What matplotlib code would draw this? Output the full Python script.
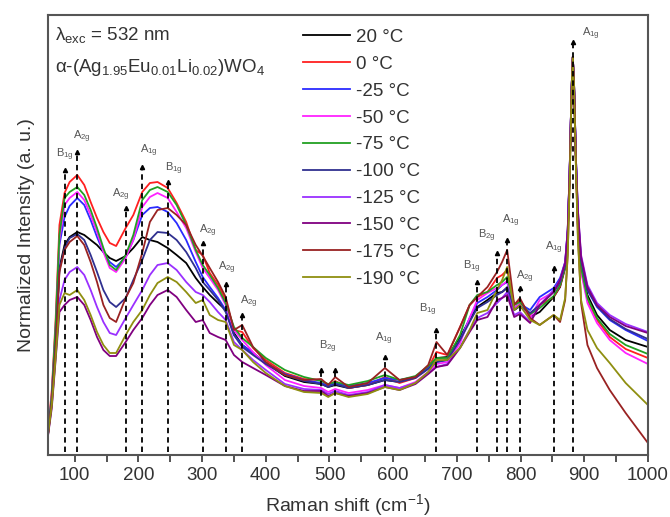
import numpy as np
import matplotlib.pyplot as plt
from matplotlib.ticker import MultipleLocator

plt.rcParams['font.family'] = ['Liberation Sans', 'DejaVu Sans']
plt.rcParams['mathtext.default'] = 'regular'

# Raman shift grid (cm-1)
shift = [58, 64, 70, 76, 84, 92, 104, 115, 125, 135,
         145, 155, 165, 180, 192, 206, 218, 230, 246, 260,
         275, 290, 301, 312, 325, 337, 350, 363, 380, 400,
         430, 460, 487, 498, 509, 530, 560, 587, 610, 635,
         655, 668, 685, 705, 720, 732, 748, 763, 771, 779,
         790, 799, 815, 830, 852, 862, 870, 874, 877, 880,
         882, 884, 887, 890, 895, 905, 920, 940, 965, 1000]

temps = ['20 °C', '0 °C', '-25 °C', '-50 °C', '-75 °C',
         '-100 °C', '-125 °C', '-150 °C', '-175 °C', '-190 °C']
colors = ['#000000', '#ff2020', '#2b2bff', '#ff22ff', '#22a022',
          '#303090', '#9a30ff', '#800080', '#992222', '#8f8f10']

i_20 = [21, 55, 110, 187, 210, 218, 223, 220, 215, 210,
        203, 197, 194, 199, 207, 218, 215, 213, 207, 200,
        192, 177, 168, 160, 152, 145, 122, 110, 102, 92,
        79, 73, 71, 68, 70, 67, 70, 75, 73, 78,
        88, 97, 98, 118, 135, 148, 155, 162, 163, 167,
        145, 149, 138, 143, 158, 168, 187, 220, 280, 365,
        398, 370, 292, 235, 190, 160, 140, 125, 115, 108]
i_0 = [22, 65, 135, 230, 262, 273, 280, 270, 253, 237,
       223, 212, 209, 227, 240, 263, 272, 273, 267, 252,
       233, 205, 200, 182, 170, 155, 125, 123, 107, 95,
       82, 76, 75, 69, 74, 67, 70, 78, 72, 77,
       87, 103, 100, 128, 150, 158, 163, 177, 180, 185,
       150, 155, 140, 150, 158, 169, 188, 220, 280, 365,
       398, 370, 290, 230, 185, 155, 135, 118, 106, 97]
i_m25 = [21, 58, 122, 210, 238, 249, 257, 250, 235, 218,
         203, 193, 188, 198, 215, 240, 247, 248, 243, 232,
         215, 193, 178, 168, 157, 145, 120, 110, 102, 92,
         81, 75, 72, 69, 72, 69, 72, 77, 75, 78,
         87, 93, 95, 115, 137, 152, 158, 165, 170, 173,
         147, 151, 145, 158, 167, 177, 193, 225, 283, 365,
         398, 370, 295, 240, 195, 165, 148, 135, 125, 114]
i_m50 = [21, 60, 127, 215, 250, 257, 263, 255, 240, 223,
         203, 187, 183, 197, 215, 248, 258, 262, 257, 243,
         227, 203, 187, 177, 165, 150, 125, 115, 103, 90,
         75, 69, 67, 63, 66, 62, 65, 70, 67, 73,
         83, 91, 93, 112, 137, 155, 162, 167, 170, 174,
         147, 151, 137, 155, 163, 173, 190, 222, 280, 365,
         398, 370, 290, 227, 183, 152, 132, 115, 102, 91]
i_m75 = [21, 60, 130, 220, 257, 263, 268, 260, 245, 227,
         207, 190, 185, 200, 220, 255, 265, 268, 263, 250,
         230, 205, 190, 180, 167, 152, 128, 117, 108, 97,
         85, 78, 74, 71, 73, 70, 74, 80, 75, 79,
         89, 97, 97, 120, 150, 160, 163, 170, 173, 178,
         150, 153, 141, 147, 159, 170, 188, 220, 280, 365,
         398, 370, 290, 230, 187, 157, 137, 121, 110, 101]
i_m100 = [21, 55, 110, 185, 207, 217, 221, 215, 200, 183,
          165, 153, 148, 157, 175, 195, 215, 223, 222, 215,
          203, 187, 173, 165, 155, 143, 120, 108, 100, 91,
          80, 74, 71, 68, 71, 67, 70, 75, 73, 77,
          86, 93, 95, 115, 133, 147, 153, 160, 163, 168,
          145, 149, 142, 150, 163, 173, 190, 223, 282, 365,
          398, 370, 295, 240, 195, 165, 149, 136, 126, 116]
i_m125 = [20, 50, 100, 155, 175, 183, 188, 180, 165, 148,
          133, 122, 120, 137, 150, 165, 180, 190, 192, 185,
          173, 163, 160, 153, 143, 135, 113, 105, 95, 85,
          71, 66, 65, 61, 64, 60, 63, 70, 67, 72,
          82, 88, 91, 108, 125, 137, 142, 152, 157, 163,
          140, 143, 133, 150, 165, 175, 193, 225, 283, 365,
          398, 370, 295, 245, 200, 170, 152, 140, 131, 123]
i_m150 = [19, 47, 95, 143, 150, 155, 158, 150, 135, 118,
          105, 99, 99, 113, 125, 137, 150, 160, 165, 158,
          145, 133, 135, 122, 118, 115, 100, 93, 87, 80,
          69, 64, 64, 59, 62, 59, 62, 68, 65, 71,
          81, 88, 90, 107, 123, 135, 138, 155, 157, 160,
          138, 141, 132, 150, 163, 175, 192, 225, 283, 365,
          398, 370, 295, 245, 198, 168, 150, 138, 129, 122]
i_m175 = [20, 53, 107, 183, 205, 213, 219, 210, 193, 173,
          150, 137, 133, 157, 172, 202, 233, 245, 247, 240,
          230, 210, 199, 187, 173, 158, 125, 130, 108, 93,
          80, 75, 76, 70, 78, 68, 72, 87, 75, 78,
          90, 113, 100, 128, 150, 158, 168, 183, 193, 205,
          150, 157, 137, 130, 140, 133, 155, 200, 270, 360,
          398, 367, 285, 220, 152, 110, 87, 65, 42, 12]
i_m190 = [20, 50, 97, 150, 162, 160, 165, 155, 140, 123,
          110, 102, 102, 120, 133, 145, 160, 172, 178, 173,
          163, 152, 155, 140, 135, 133, 110, 105, 93, 82,
          69, 63, 62, 58, 62, 58, 61, 68, 65, 72,
          83, 95, 95, 107, 125, 142, 145, 165, 175, 188,
          145, 150, 135, 130, 140, 135, 157, 200, 270, 360,
          398, 367, 285, 215, 155, 125, 107, 92, 72, 50]

spectra = [i_20, i_0, i_m25, i_m50, i_m75, i_m100, i_m125, i_m150, i_m175, i_m190]

# vibrational mode assignments: line position, arrow top, label text and label position
mode_pos = [84, 104, 180, 206, 246, 301, 337, 363, 487, 509,
            587, 668, 732, 763, 779, 799, 852, 882]
mode_top = [285, 303, 247, 288, 273, 212, 171, 140, 85, 85,
            98, 125, 173, 202, 215, 167, 187, 413]
mode_names = ['B$_{1g}$', 'A$_{2g}$', 'A$_{2g}$', 'A$_{1g}$', 'B$_{1g}$', 'A$_{2g}$',
              'A$_{2g}$', 'A$_{2g}$', 'B$_{2g}$', 'A$_{1g}$', 'B$_{1g}$', 'B$_{1g}$',
              'B$_{2g}$', 'A$_{1g}$', 'A$_{2g}$', 'A$_{1g}$', 'A$_{1g}$']
name_x = [84, 111, 172, 216, 255, 309, 339, 373, 498, 585, 654, 723,
          747, 784, 806, 852, 911]
name_y = [300, 318, 260, 304, 286, 224, 187, 153, 108, 116, 145, 188,
          219, 234, 178, 207, 421]

fig = plt.figure(figsize=(6.7, 5.17), dpi=100)
ax = fig.add_axes([0.0716, 0.1199, 0.8955, 0.8511])

for y, c, lab in zip(spectra, colors, temps):
    ax.plot(shift, y, color=c, lw=1.3, label=lab)

ax.vlines(mode_pos, 3, mode_top, colors='k', linestyles=(0, (3, 2.2)), lw=1.3, zorder=5)
ax.plot(mode_pos, mode_top, ls='none', marker='^', ms=3.0, color='k', zorder=6)
for t, xx, yy in zip(mode_names, name_x, name_y):
    ax.text(xx, yy, t, fontsize=8, color='#555555', ha='center', va='center')

ax.text(0.012, 0.955, 'λ$_{exc}$ = 532 nm', transform=ax.transAxes,
        fontsize=13.5, color='#333333', va='center')
ax.text(0.012, 0.88, 'α-(Ag$_{1.95}$Eu$_{0.01}$Li$_{0.02}$)WO$_{4}$',
        transform=ax.transAxes, fontsize=13.5, color='#333333', va='center')

ax.legend(loc='upper left', bbox_to_anchor=(0.41, 0.99), frameon=False,
          fontsize=13.5, handlelength=2.5, handletextpad=0.3,
          labelspacing=0.52, borderpad=0, labelcolor='#333333')

ax.set_xlim(58, 1000)
ax.set_ylim(0, 440)
ax.xaxis.set_major_locator(MultipleLocator(100))
ax.xaxis.set_minor_locator(MultipleLocator(50))
ax.set_yticks([])
ax.tick_params(axis='x', which='both', direction='out', length=5, width=1.3,
               color='#444444', labelsize=13.5, labelcolor='#333333')
for s in ax.spines.values():
    s.set_color('#555555')
    s.set_linewidth(1.5)

ax.set_xlabel('Raman shift (cm$^{-1}$)', fontsize=14, color='#333333', labelpad=6)
ax.set_ylabel('Normalized Intensity (a. u.)', fontsize=14, color='#333333', labelpad=9)

fig.savefig('out.png', dpi=100)
